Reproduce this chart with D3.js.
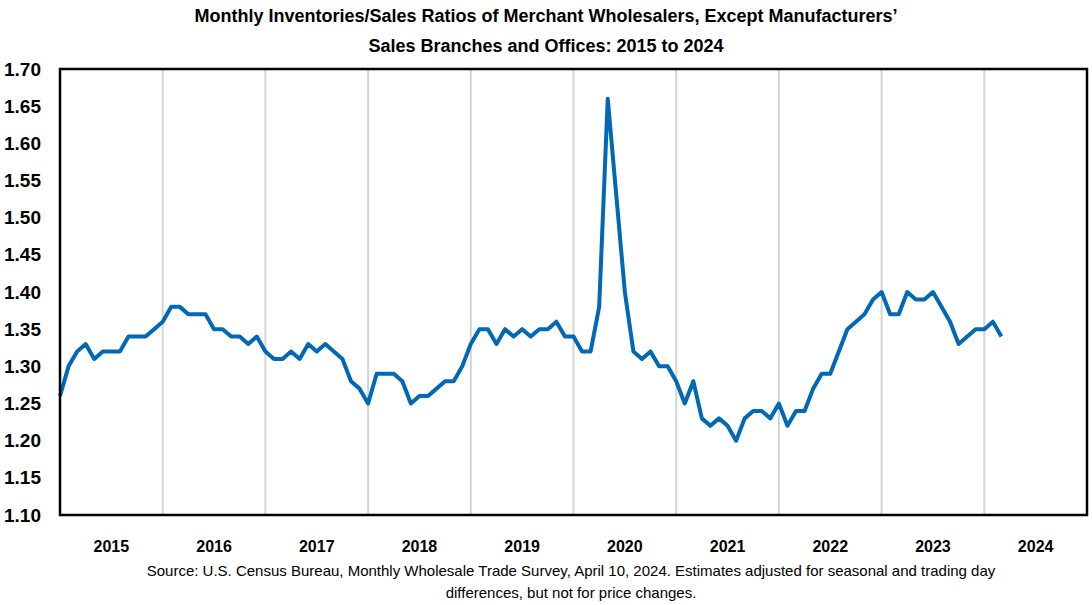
<!DOCTYPE html>
<html>
<head>
<meta charset="utf-8">
<script src="https://cdn.jsdelivr.net/npm/d3@7"></script>
<style>
  body { margin: 0; background: white; }
  text { font-family: "Liberation Sans Narrow", "Arial Narrow", "Liberation Sans", sans-serif; }
</style>
</head>
<body>
<div id="ChartContainer"></div>
<script>
// 데이터
const years = ["2015", "2016", "2017", "2018", "2019", "2020", "2021", "2022", "2023", "2024"];
const yTicks = [1.10, 1.15, 1.20, 1.25, 1.30, 1.35, 1.40, 1.45, 1.50, 1.55, 1.60, 1.65, 1.70];
// monthly ratios, Jan 2015 .. Mar 2024
const ratios = [
  1.26, 1.30, 1.32, 1.33, 1.31, 1.32, 1.32, 1.32, 1.34, 1.34, 1.34, 1.35, // 2015
  1.36, 1.38, 1.38, 1.37, 1.37, 1.37, 1.35, 1.35, 1.34, 1.34, 1.33, 1.34, // 2016
  1.32, 1.31, 1.31, 1.32, 1.31, 1.33, 1.32, 1.33, 1.32, 1.31, 1.28, 1.27, // 2017
  1.25, 1.29, 1.29, 1.29, 1.28, 1.25, 1.26, 1.26, 1.27, 1.28, 1.28, 1.30, // 2018
  1.33, 1.35, 1.35, 1.33, 1.35, 1.34, 1.35, 1.34, 1.35, 1.35, 1.36, 1.34, // 2019
  1.34, 1.32, 1.32, 1.38, 1.66, 1.53, 1.40, 1.32, 1.31, 1.32, 1.30, 1.30, // 2020
  1.28, 1.25, 1.28, 1.23, 1.22, 1.23, 1.22, 1.20, 1.23, 1.24, 1.24, 1.23, // 2021
  1.25, 1.22, 1.24, 1.24, 1.27, 1.29, 1.29, 1.32, 1.35, 1.36, 1.37, 1.39, // 2022
  1.40, 1.37, 1.37, 1.40, 1.39, 1.39, 1.40, 1.38, 1.36, 1.33, 1.34, 1.35, // 2023
  1.35, 1.36, 1.34                                                        // 2024
];
const titleLines = [
  "Monthly Inventories/Sales Ratios of Merchant Wholesalers, Except Manufacturers’",
  "Sales Branches and Offices: 2015 to 2024"
];
const sourceLines = [
  "Source: U.S. Census Bureau, Monthly Wholesale Trade Survey, April 10, 2024. Estimates adjusted for seasonal and trading day",
  "differences, but not for price changes."
];

const width = 1092;
const height = 605;
const margin = { top: 69, right: 5, bottom: 90, left: 60 };

const svg = d3.select("#ChartContainer")
  .append("svg")
  .attr("width", width)
  .attr("height", height);

// scales (x = month index from Jan 2015)
const x = d3.scaleLinear()
  .domain([0, years.length * 12])
  .range([margin.left, width - margin.right]);
const y = d3.scaleLinear()
  .domain([1.10, 1.70])
  .range([height - margin.bottom, margin.top]);

// 제목
svg.selectAll(".title")
  .data(titleLines)
  .enter()
  .append("text")
  .attr("class", "title")
  .attr("x", 546)
  .attr("y", (d, i) => 22 + i * 30)
  .attr("text-anchor", "middle")
  .attr("font-weight", "bold")
  .attr("font-size", "18px")
  .text(d => d);

// vertical year gridlines
svg.append("g")
  .selectAll("line")
  .data(d3.range(1, years.length))
  .enter()
  .append("line")
  .attr("x1", d => x(d * 12))
  .attr("x2", d => x(d * 12))
  .attr("y1", y(1.70))
  .attr("y2", y(1.10))
  .attr("stroke", "#d4d4d4")
  .attr("stroke-width", 2);

// the line
const line = d3.line()
  .x((d, i) => x(i))
  .y(d => y(d));

svg.append("path")
  .datum(ratios)
  .attr("d", line)
  .attr("fill", "none")
  .attr("stroke", "#0068b5")
  .attr("stroke-width", 4)
  .attr("stroke-linejoin", "round");

// plot border
svg.append("rect")
  .attr("x", x(0))
  .attr("y", y(1.70))
  .attr("width", x(years.length * 12) - x(0))
  .attr("height", y(1.10) - y(1.70))
  .attr("fill", "none")
  .attr("stroke", "black")
  .attr("stroke-width", 2.5);

// y axis labels
const yAxis = d3.axisLeft(y)
  .tickValues(yTicks)
  .tickFormat(d3.format(".2f"))
  .tickSize(0)
  .tickPadding(19);

svg.append("g")
  .attr("transform", "translate(" + margin.left + ",0)")
  .call(yAxis)
  .call(g => g.select(".domain").remove())
  .selectAll("text")
  .attr("font-family", null)
  .attr("font-size", "19px")
  .attr("font-weight", "bold")
  .attr("fill", "black");

// year labels under the plot
svg.append("g")
  .selectAll("text")
  .data(years)
  .enter()
  .append("text")
  .attr("x", (d, i) => x(i * 12 + 6))
  .attr("y", 552)
  .attr("text-anchor", "middle")
  .attr("font-weight", "bold")
  .attr("font-size", "16px")
  .text(d => d);

// 출처
svg.selectAll(".source")
  .data(sourceLines)
  .enter()
  .append("text")
  .attr("class", "source")
  .attr("x", 571)
  .attr("y", (d, i) => 576 + i * 22)
  .attr("text-anchor", "middle")
  .attr("font-size", "15px")
  .text(d => d);
</script>
</body>
</html>
